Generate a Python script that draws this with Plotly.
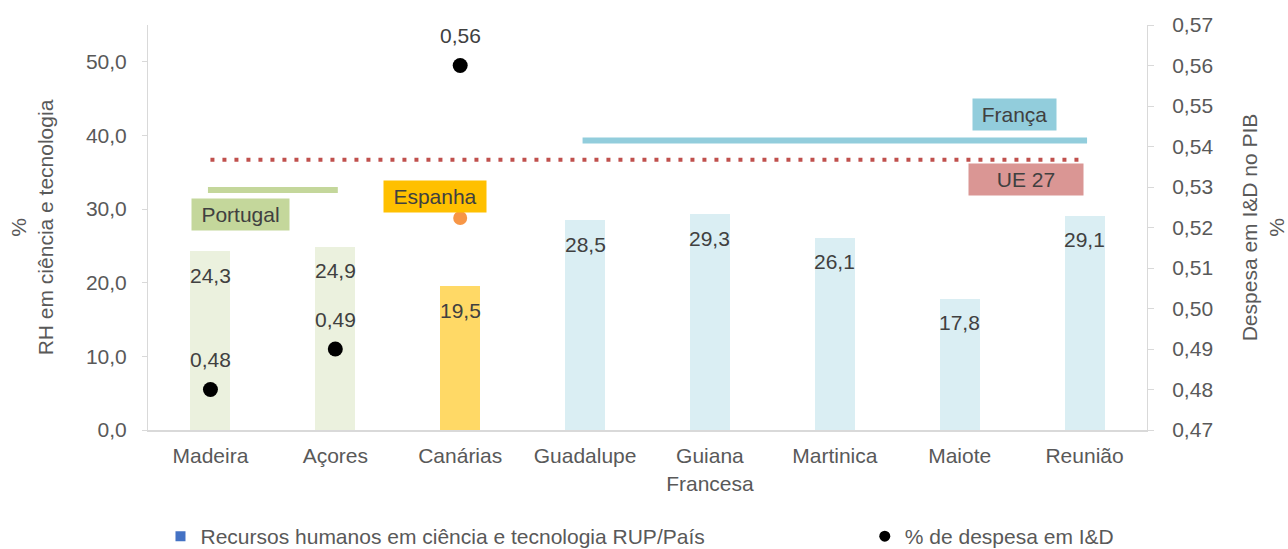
import plotly.graph_objects as go

categories = ["Madeira", "Açores", "Canárias", "Guadalupe", "Guiana<br>Francesa",
              "Martinica", "Maiote", "Reunião"]
country = ["PT", "PT", "ES", "FR", "FR", "FR", "FR", "FR"]
rh_values = [24.3, 24.9, 19.5, 28.5, 29.3, 26.1, 17.8, 29.1]
rd_categories = ["Madeira", "Açores", "Canárias"]
rd_values = [0.48, 0.49, 0.56]
pt_rh = 32.6
fr_rh = 39.3
es_rh = 28.8
eu_rh = 36.7

bar_colors = {"PT": "#EBF1DE", "ES": "#FFD966", "FR": "#DAEEF3"}
FONT = "Liberation Sans, Arial, sans-serif"
FS = 21
TXT = "#404040"
AX = "#595959"

idx = list(range(len(categories)))

fig = go.Figure()
fig.add_trace(go.Bar(x=idx, y=rh_values, width=0.32,
                     marker=dict(color=[bar_colors[c] for c in country], line=dict(width=0)),
                     showlegend=False, hoverinfo="skip"))

# country reference lines
pt_idx = [i for i, c in enumerate(country) if c == "PT"]
fr_idx = [i for i, c in enumerate(country) if c == "FR"]
fig.add_trace(go.Scatter(x=[min(pt_idx) - 0.02, max(pt_idx) + 0.02], y=[pt_rh, pt_rh], mode="lines",
                         line=dict(color="#C4D79B", width=6), showlegend=False, hoverinfo="skip"))
fig.add_trace(go.Scatter(x=[min(fr_idx) - 0.02, max(fr_idx) + 0.02], y=[fr_rh, fr_rh], mode="lines",
                         line=dict(color="#92CDDC", width=6), showlegend=False, hoverinfo="skip"))
fig.add_trace(go.Scatter(x=[0, idx[-1]], y=[eu_rh, eu_rh], mode="lines",
                         line=dict(color="#C0504D", width=4, dash="4px,8px"),
                         showlegend=False, hoverinfo="skip"))
es_i = country.index("ES")
fig.add_trace(go.Scatter(x=[es_i], y=[es_rh], mode="markers",
                         marker=dict(color="#F79646", size=14), showlegend=False, hoverinfo="skip"))

rd_idx = [categories.index(c) for c in rd_categories]
fig.add_trace(go.Scatter(x=rd_idx, y=rd_values, yaxis="y2", mode="markers",
                         marker=dict(color="black", size=15), showlegend=False, hoverinfo="skip"))

# legend entries
fig.add_trace(go.Scatter(x=[None], y=[None], mode="markers", legend="legend",
                         marker=dict(symbol="square", color="#4472C4", size=10),
                         name="Recursos humanos em ciência e tecnologia RUP/País"))
fig.add_trace(go.Scatter(x=[None], y=[None], mode="markers", legend="legend2",
                         marker=dict(symbol="circle", color="black", size=11),
                         name="% de despesa em I&D"))

ann = []
for i, v in zip(idx, rh_values):
    ann.append(dict(x=i, y=v, yshift=-24, text=f"{v:.1f}".replace(".", ","), showarrow=False,
                    font=dict(size=FS, color=TXT, family=FONT)))
for i, v in zip(rd_idx, rd_values):
    ann.append(dict(x=i, y=v, yref="y2", yshift=30, text=f"{v:.2f}".replace(".", ","), showarrow=False,
                    font=dict(size=FS, color=TXT, family=FONT)))

boxes = [("Portugal", 0.24, 29.3, "#C4D79B", 95),
         ("Espanha", 1.8, 31.7, "#FFC000", 100),
         ("França", 6.44, 42.8, "#92CDDC", 81),
         ("UE 27", 6.53, 34.0, "#DA9694", 112)]
for t, x, y, col, w in boxes:
    ann.append(dict(x=x, y=y, text=t, showarrow=False, bgcolor=col, width=w, height=29,
                    font=dict(size=FS, color=TXT, family=FONT)))

leg_common = dict(orientation="h", y=-0.263, yanchor="middle", xanchor="left", itemwidth=30,
                  font=dict(size=FS, color=AX, family=FONT), bgcolor="rgba(0,0,0,0)")

fig.update_layout(
    width=1288, height=549,
    margin=dict(l=147.5, r=140.5, t=25, b=119, autoexpand=False),
    paper_bgcolor="white", plot_bgcolor="white",
    font=dict(family=FONT, size=FS, color=AX),
    separators=", ",
    bargap=0,
    annotations=ann,
    xaxis=dict(range=[-0.5, len(categories) - 0.5], tickvals=idx, ticktext=categories,
               showgrid=False, zeroline=False, showline=True, linecolor="#D9D9D9", linewidth=2,
               ticks="", ticklabelstandoff=6, tickfont=dict(size=FS, color=AX)),
    yaxis=dict(range=[0, 55], tickvals=[0, 10, 20, 30, 40, 50], tickformat=".1f",
               showgrid=False, zeroline=False, showline=True, linecolor="#D9D9D9", linewidth=1,
               ticks="outside", ticklen=5, tickcolor="#D9D9D9", ticklabelstandoff=11,
               tickfont=dict(size=FS, color=AX),
               title=dict(text="%<br>RH em ciência e tecnologia", font=dict(size=FS, color=AX), standoff=26)),
    yaxis2=dict(range=[0.47, 0.57], overlaying="y", side="right", dtick=0.01, tickformat=".2f",
                showgrid=False, zeroline=False, showline=True, linecolor="#D9D9D9", linewidth=1,
                ticks="outside", ticklen=6, tickcolor="#D9D9D9", ticklabelstandoff=14,
                tickfont=dict(size=FS, color=AX),
                title=dict(text="Despesa em I&D no PIB<br>%", font=dict(size=FS, color=AX), standoff=37)),
    legend=dict(x=0.0125, **leg_common),
    legend2=dict(x=0.7175, **leg_common),
)

fig.write_html("out.html", config={"displayModeBar": False},
               post_script="document.body.style.margin='0';document.body.style.overflow='hidden';")
